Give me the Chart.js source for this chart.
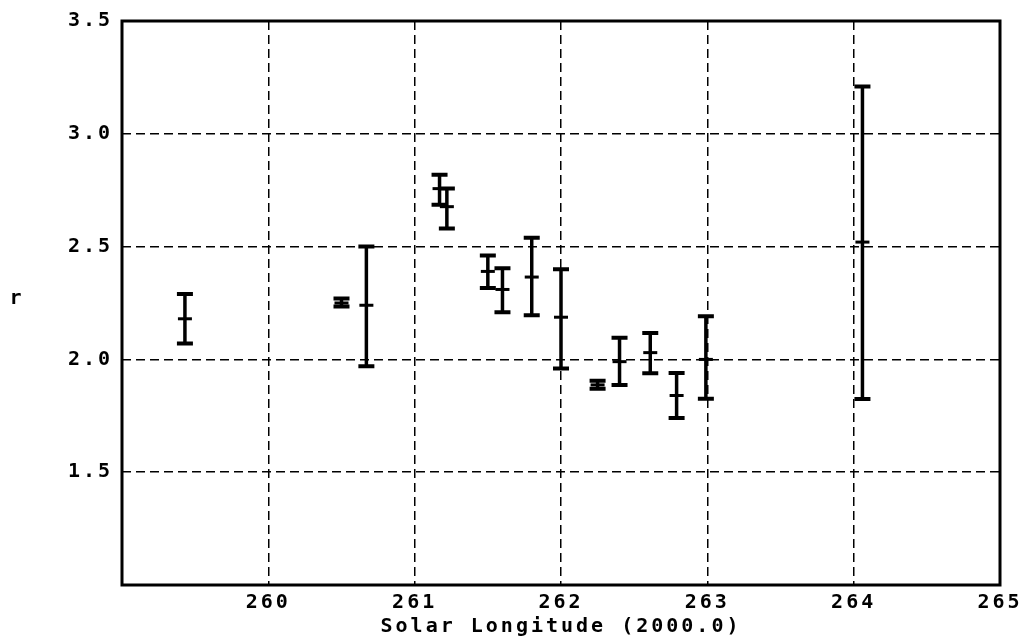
<!DOCTYPE html>
<html lang="en">
<head>
  <meta charset="UTF-8" />
  <title>r vs Solar Longitude</title>
  <style>
    body { margin: 0; background: #fff; }
    #wrap { width: 1030px; height: 639px; position: relative; }
  </style>
</head>
<body>
<div id="wrap"><canvas id="chart" width="1030" height="639"></canvas></div>

<script src="https://cdn.jsdelivr.net/npm/chart.js@4.4.3"></script>
<script>
  // solar longitude (2000.0) of each measurement
  const lon = [259.43, 260.50, 260.67, 261.17, 261.22, 261.50, 261.60, 261.80, 262.00, 262.25, 262.40, 262.61, 262.79, 262.99, 264.06];
  // population index r: value, lower and upper limit of the error bar
  const rVal  = [2.18, 2.25, 2.24, 2.757, 2.677, 2.39, 2.31, 2.365, 2.187, 1.887, 1.99, 2.03, 1.84, 2.00, 2.52];
  const rLow  = [2.07, 2.235, 1.97, 2.686, 2.58, 2.317, 2.209, 2.196, 1.96, 1.87, 1.887, 1.939, 1.74, 1.826, 1.825];
  const rHigh = [2.29, 2.27, 2.50, 2.819, 2.757, 2.461, 2.404, 2.539, 2.40, 1.905, 2.096, 2.117, 1.94, 2.191, 3.21];

  const xMin = 259, xMax = 265;
  const yMin = 1.0, yMax = 3.5;

  const monoFont = { family: '"DejaVu Sans Mono", monospace', size: 20, weight: 'bold' };

  // error bars, frame and the "r" label
  const errorBars = {
    id: 'errorBars',
    beforeDraw(chart) {
      chart.ctx.letterSpacing = '3px';
    },
    afterDatasetsDraw(chart) {
      const { ctx, scales: { x, y } } = chart;
      ctx.save();
      ctx.strokeStyle = '#000';
      lon.forEach((v, i) => {
        const px = x.getPixelForValue(v);
        const top = y.getPixelForValue(rHigh[i]);
        const bot = y.getPixelForValue(rLow[i]);
        ctx.lineWidth = 3.5;
        ctx.beginPath();
        ctx.moveTo(px, top);
        ctx.lineTo(px, bot);
        ctx.stroke();
        ctx.lineWidth = 4;
        ctx.beginPath();
        ctx.moveTo(px - 8, top); ctx.lineTo(px + 8, top);
        ctx.moveTo(px - 8, bot); ctx.lineTo(px + 8, bot);
        ctx.stroke();
      });
      ctx.restore();
    },
    afterDraw(chart) {
      const { ctx, chartArea: a } = chart;
      ctx.save();
      ctx.strokeStyle = '#000';
      ctx.lineWidth = 3;
      ctx.strokeRect(a.left, a.top, a.right - a.left, a.bottom - a.top);
      ctx.fillStyle = '#000';
      ctx.font = 'bold 20px "DejaVu Sans Mono", monospace';
      ctx.textAlign = 'center';
      ctx.textBaseline = 'middle';
      ctx.fillText('r', 17, 299);
      ctx.restore();
    }
  };

  new Chart(document.getElementById('chart'), {
    type: 'scatter',
    data: {
      datasets: [{
        data: lon.map((v, i) => ({ x: v, y: rVal[i] })),
        pointStyle: 'line',
        pointRadius: 7,
        borderWidth: 3,
        borderColor: '#000',
        backgroundColor: '#000'
      }]
    },
    options: {
      responsive: false,
      animation: false,
      layout: { padding: { top: 15, right: 30, left: 0, bottom: 0 } },
      plugins: { legend: { display: false }, tooltip: { enabled: false } },
      scales: {
        x: {
          type: 'linear',
          min: xMin,
          max: xMax,
          afterFit: s => { s.height = 54; },
          ticks: {
            stepSize: 1,
            padding: 6,
            color: '#000',
            font: monoFont,
            maxRotation: 0,
            callback: v => v === xMin ? '' : String(v)
          },
          grid: { color: '#000', lineWidth: 1.5, drawTicks: false },
          border: { display: false, dash: [9, 5] },
          title: {
            display: true,
            text: 'Solar Longitude (2000.0)',
            color: '#000',
            font: monoFont,
            padding: { top: 0, bottom: 0 }
          }
        },
        y: {
          min: yMin,
          max: yMax,
          afterFit: s => { s.width = 122; },
          ticks: {
            stepSize: 0.5,
            padding: 9,
            color: '#000',
            font: monoFont,
            callback: v => v === yMin ? '' : v.toFixed(1)
          },
          grid: { color: '#000', lineWidth: 1.5, drawTicks: false },
          border: { display: false, dash: [9, 5] }
        }
      }
    },
    plugins: [errorBars]
  });
</script>
</body>
</html>
